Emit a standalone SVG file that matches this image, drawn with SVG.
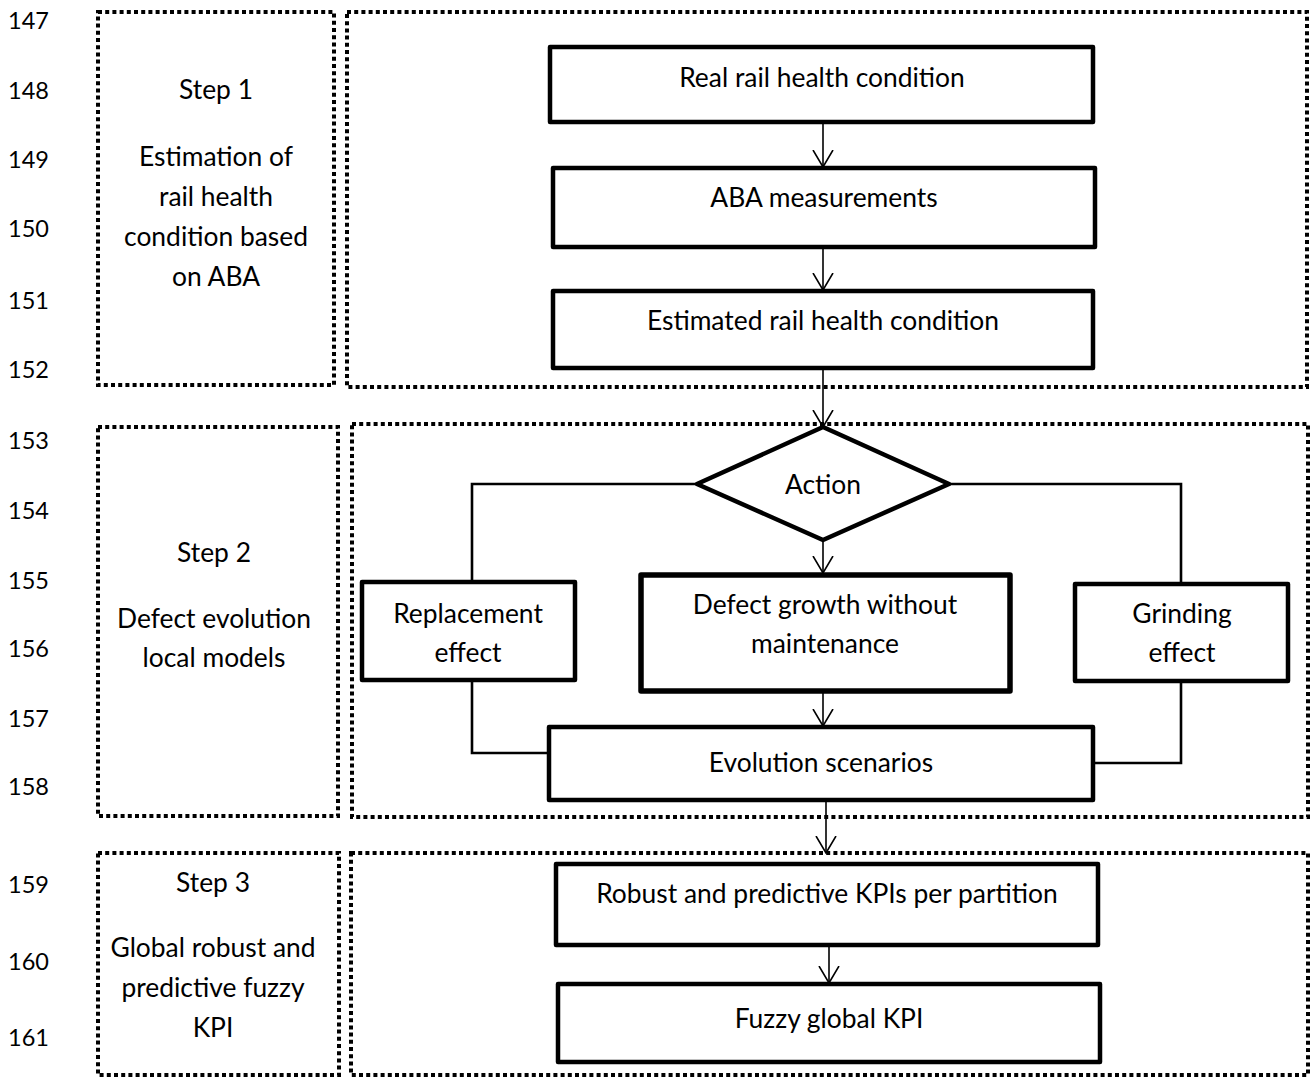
<svg xmlns="http://www.w3.org/2000/svg" width="1311" height="1077" viewBox="0 0 1311 1077">
<defs>
<style>
.bg{fill:#fff}
.dot{fill:none;stroke:#000;stroke-width:4;stroke-dasharray:4 3.2}
.box{fill:#fff;stroke:#000;stroke-width:4.5;stroke-linejoin:round}
.thick{stroke-width:5.5}
.lbl{font-family:Lato,"Open Sans",sans-serif;font-size:26.4px;fill:#000;text-anchor:middle}
.num{font-family:Lato,"Open Sans",sans-serif;font-size:23.5px;fill:#000}
.arr{fill:none;stroke:#000;stroke-width:1.6}
.con{fill:none;stroke:#000;stroke-width:2.6;stroke-linejoin:miter}
</style>
<marker id="ah" viewBox="0 0 18 22" refX="17" refY="11" markerWidth="18" markerHeight="22" markerUnits="userSpaceOnUse" orient="auto">
<path d="M0,1 L17,11 L0,21" fill="none" stroke="#000" stroke-width="1.6"/>
</marker>
</defs>
<rect class="bg" x="0" y="0" width="1311" height="1077"/>

<g id="line-numbers" class="num">
<text x="8" y="29">147</text>
<text x="8" y="99">148</text>
<text x="8" y="168">149</text>
<text x="8" y="237">150</text>
<text x="8" y="309">151</text>
<text x="8" y="378">152</text>
<text x="8" y="449">153</text>
<text x="8" y="519">154</text>
<text x="8" y="589">155</text>
<text x="8" y="657">156</text>
<text x="8" y="727">157</text>
<text x="8" y="795">158</text>
<text x="8" y="893">159</text>
<text x="8" y="970">160</text>
<text x="8" y="1046">161</text>
</g>

<g id="step1-panel">
<rect class="dot" x="98" y="12" width="236" height="373"/>
<text class="lbl" x="216" y="99">Step 1</text>
<text class="lbl" x="216" y="166">Estimation of</text>
<text class="lbl" x="216" y="206">rail health</text>
<text class="lbl" x="216" y="246">condition based</text>
<text class="lbl" x="216" y="286">on ABA</text>
</g>
<g id="step1-area"><rect class="dot" x="347" y="12" width="960" height="375"/></g>

<g id="step2-panel">
<rect class="dot" x="98" y="427" width="240" height="389"/>
<text class="lbl" x="214" y="562">Step 2</text>
<text class="lbl" x="214" y="628">Defect evolution</text>
<text class="lbl" x="214" y="667">local models</text>
</g>
<g id="step2-area"><rect class="dot" x="352" y="424" width="956" height="393"/></g>

<g id="step3-panel">
<rect class="dot" x="98" y="853" width="241" height="222"/>
<text class="lbl" x="213" y="892">Step 3</text>
<text class="lbl" x="213" y="957">Global robust and</text>
<text class="lbl" x="213" y="997">predictive fuzzy</text>
<text class="lbl" x="213" y="1037">KPI</text>
</g>
<g id="step3-area"><rect class="dot" x="351" y="853" width="957" height="222"/></g>

<g id="connectors">
<line class="arr" x1="823" y1="122" x2="823" y2="167" marker-end="url(#ah)"/>
<line class="arr" x1="823" y1="247" x2="823" y2="290" marker-end="url(#ah)"/>
<line class="arr" x1="823" y1="369" x2="823" y2="427" marker-end="url(#ah)"/>
<line class="arr" x1="823" y1="540" x2="823" y2="573" marker-end="url(#ah)"/>
<line class="arr" x1="823" y1="692" x2="823" y2="726" marker-end="url(#ah)"/>
<line class="arr" x1="826" y1="800" x2="826" y2="853" marker-end="url(#ah)"/>
<line class="arr" x1="829" y1="945" x2="829" y2="983" marker-end="url(#ah)"/>
<polyline class="con" points="697,484 472,484 472,582"/>
<polyline class="con" points="948,484 1181,484 1181,584"/>
<polyline class="con" points="472,680 472,753 549,753"/>
<polyline class="con" points="1181,680 1181,763 1093,763"/>
</g>

<g id="real-rail-health">
<rect class="box" x="550" y="47" width="543" height="75"/>
<text class="lbl" x="822" y="87">Real rail health condition</text>
</g>
<g id="aba-measurements">
<rect class="box" x="553" y="168" width="542" height="79"/>
<text class="lbl" x="824" y="207">ABA measurements</text>
</g>
<g id="estimated-rail-health">
<rect class="box" x="553" y="291" width="540" height="77"/>
<text class="lbl" x="823" y="330">Estimated rail health condition</text>
</g>

<g id="action">
<polygon class="box" points="823,427 949,484 823,540 697,484"/>
<text class="lbl" x="823" y="494">Action</text>
</g>
<g id="replacement-effect">
<rect class="box" x="362" y="582" width="213" height="98"/>
<text class="lbl" x="468" y="623">Replacement</text>
<text class="lbl" x="468" y="662">effect</text>
</g>
<g id="defect-growth">
<rect class="box thick" x="641" y="575" width="369" height="116"/>
<text class="lbl" x="825" y="614">Defect growth without</text>
<text class="lbl" x="825" y="653">maintenance</text>
</g>
<g id="grinding-effect">
<rect class="box" x="1075" y="584" width="213" height="97"/>
<text class="lbl" x="1182" y="623">Grinding</text>
<text class="lbl" x="1182" y="662">effect</text>
</g>
<g id="evolution-scenarios">
<rect class="box" x="549" y="727" width="544" height="73"/>
<text class="lbl" x="821" y="772">Evolution scenarios</text>
</g>

<g id="robust-kpis">
<rect class="box" x="556" y="864" width="542" height="81"/>
<text class="lbl" x="827" y="903">Robust and predictive KPIs per partition</text>
</g>
<g id="fuzzy-global-kpi">
<rect class="box" x="558" y="984" width="542" height="78"/>
<text class="lbl" x="829" y="1028">Fuzzy global KPI</text>
</g>
</svg>
